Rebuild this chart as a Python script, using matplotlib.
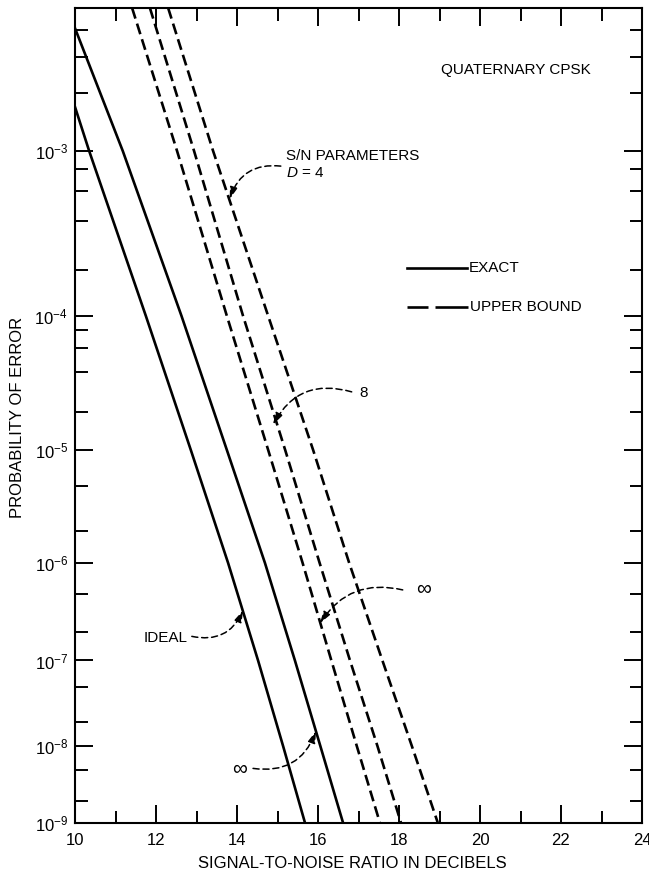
import numpy as np
import matplotlib
matplotlib.use('Agg')
import matplotlib.pyplot as plt

plt.rcParams['font.family'] = ['Liberation Sans', 'DejaVu Sans']
plt.rcParams['mathtext.fontset'] = 'custom'
plt.rcParams['mathtext.rm'] = 'Liberation Sans'
plt.rcParams['mathtext.it'] = 'Liberation Sans:italic'
plt.rcParams['mathtext.default'] = 'regular'

p_levels = [1e-3, 1e-4, 1e-5, 1e-6, 1e-7, 1e-8, 1e-9]

# exact curves (solid)
ideal_p = [1.7e-3] + p_levels
ideal_snr = [10.0, 10.35, 11.75, 12.86, 13.78, 14.52, 15.14, 15.68]
exact_inf_p = [4.06e-3] + p_levels
exact_inf_snr = [10.0, 11.18, 12.63, 13.75, 14.69, 15.43, 16.06, 16.62]

# upper bounds (dashed), D = inf, 8, 4
ub_p = [5e-3] + p_levels
ub_inf_snr = [11.41, 12.52, 13.75, 14.77, 15.62, 16.33, 16.96, 17.53]
ub_8_snr = [11.85, 12.94, 14.15, 15.19, 16.04, 16.79, 17.47, 18.05]
ub_4_snr = [12.30, 13.41, 14.77, 15.88, 16.77, 17.59, 18.32, 18.96]

y_major = [1e-3, 1e-4, 1e-5, 1e-6, 1e-7, 1e-8, 1e-9]
y_major_labels = ['10$^{-3}$', '10$^{-4}$', '10$^{-5}$', '10$^{-6}$',
                  '10$^{-7}$', '10$^{-8}$', '10$^{-9}$']
y_minor = [4e-3, 3e-3, 2e-3,
           8e-4, 6e-4, 4e-4, 2e-4,
           8e-5, 6e-5, 4e-5, 2e-5,
           5e-6, 2e-6, 5e-7, 2e-7, 5e-8, 2e-8, 5e-9, 2e-9]
x_major = [10, 12, 14, 16, 18, 20, 22, 24]
x_minor = [11, 13, 15, 17, 19, 21, 23]


# probability paper: y ~ -ln(2 - ln P)
def fwd(p):
    p = np.clip(p, 1e-300, 1.0)
    return -np.log(2.0 - np.log(p))


def inv(v):
    return np.exp(2.0 - np.exp(-v))


fig = plt.figure(figsize=(6.49, 8.74), dpi=100)
ax = fig.add_axes([75 / 649, 51 / 874, 567 / 649, 815 / 874])
ax.set_yscale('function', functions=(fwd, inv))
ax.set_xlim(10, 24)
ax.set_ylim(1e-9, 5e-3)

lw = 1.9
ax.plot(ideal_snr, ideal_p, color='black', lw=lw)
ax.plot(exact_inf_snr, exact_inf_p, color='black', lw=lw)
for s in (ub_inf_snr, ub_8_snr, ub_4_snr):
    ax.plot(s, ub_p, color='black', lw=lw, dashes=(4.2, 2))

ax.set_xticks(x_major, [str(v) for v in x_major])
ax.set_xticks(x_minor, minor=True)
ax.set_yticks(y_major, y_major_labels)
ax.set_yticks(y_minor, minor=True)
ax.yaxis.set_minor_formatter(matplotlib.ticker.NullFormatter())
ax.tick_params(which='both', direction='in', top=True, right=True, width=1.4,
               labelsize=12)
ax.tick_params(which='major', length=13)
ax.tick_params(which='minor', length=9)
ax.tick_params(axis='x', pad=7)
ax.tick_params(axis='y', pad=5)
for sp in ax.spines.values():
    sp.set_linewidth(1.5)

fig.text(352 / 649, 1 - 863 / 874, 'SIGNAL-TO-NOISE RATIO IN DECIBELS',
         ha='center', va='center', fontsize=12)
fig.text(17.5 / 649, 1 - 417 / 874, 'PROBABILITY OF ERROR', rotation=90,
         ha='center', va='center', fontsize=12)

ax.text(0.778, 0.924, 'QUATERNARY CPSK', transform=ax.transAxes,
        ha='center', va='center', fontsize=11)

# legend drawn by hand
ax.plot([0.586, 0.691], [0.681, 0.681], transform=ax.transAxes,
        color='black', lw=lw)
ax.text(0.694, 0.681, 'EXACT', transform=ax.transAxes, ha='left',
        va='center', fontsize=11)
ax.plot([0.586, 0.623], [0.633, 0.633], transform=ax.transAxes,
        color='black', lw=lw, solid_capstyle='butt')
ax.plot([0.635, 0.693], [0.633, 0.633], transform=ax.transAxes,
        color='black', lw=lw, solid_capstyle='butt')
ax.text(0.696, 0.633, 'UPPER BOUND', transform=ax.transAxes, ha='left',
        va='center', fontsize=11)

arrow = dict(arrowstyle='-|>,head_length=0.7,head_width=0.22', color='black',
             lw=1.1, ls=(0, (4, 2.5)), shrinkA=0, shrinkB=0)

ax.text(0.372, 0.818, 'S/N PARAMETERS', transform=ax.transAxes, ha='left',
        va='center', fontsize=11)
ax.text(0.372, 0.797, '$\\mathit{D}$ = 4', transform=ax.transAxes, ha='left',
        va='center', fontsize=11)
ax.annotate('', xy=(13.82, 5.4e-4), xytext=(0.363, 0.806),
            textcoords='axes fraction',
            arrowprops=dict(arrow, connectionstyle='arc3,rad=0.4'))

ax.text(0.502, 0.528, '8', transform=ax.transAxes, ha='left',
        va='center', fontsize=11)
ax.annotate('', xy=(14.89, 1.6e-5), xytext=(0.488, 0.529),
            textcoords='axes fraction',
            arrowprops=dict(arrow, connectionstyle='arc3,rad=0.4'))

ax.text(0.601, 0.287, '\u221e', transform=ax.transAxes, ha='left',
        va='center', fontsize=15)
ax.annotate('', xy=(16.05, 2.5e-7), xytext=(0.578, 0.286),
            textcoords='axes fraction',
            arrowprops=dict(arrow, connectionstyle='arc3,rad=0.35'))

ax.text(0.199, 0.227, 'IDEAL', transform=ax.transAxes, ha='right',
        va='center', fontsize=11)
ax.annotate('', xy=(14.15, 3.4e-7), xytext=(0.206, 0.229),
            textcoords='axes fraction',
            arrowprops=dict(arrow, connectionstyle='arc3,rad=0.4'))

ax.text(0.291, 0.066, '\u221e', transform=ax.transAxes, ha='center',
        va='center', fontsize=15)
ax.annotate('', xy=(15.95, 1.54e-8), xytext=(0.314, 0.067),
            textcoords='axes fraction',
            arrowprops=dict(arrow, connectionstyle='arc3,rad=0.4'))

fig.savefig('out.png', dpi=100)
